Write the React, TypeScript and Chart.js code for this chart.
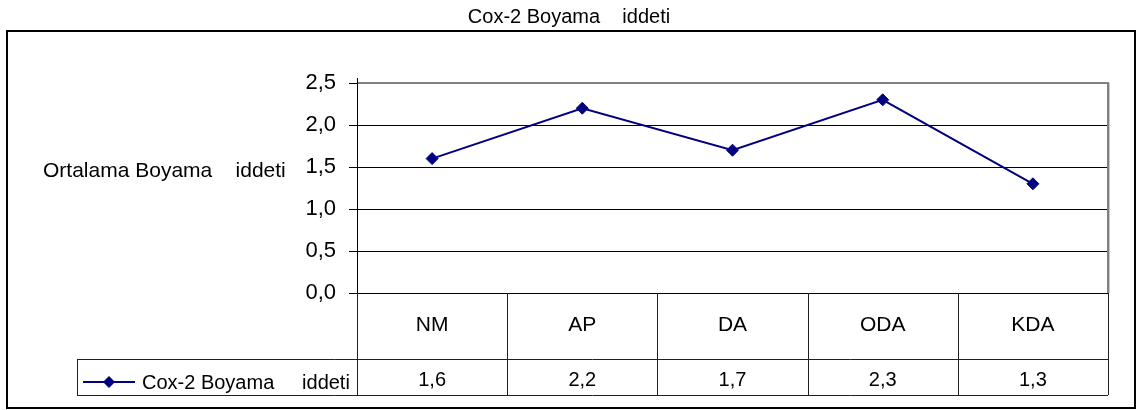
import React, { useEffect, useRef } from 'react';
import { Chart, registerables } from 'chart.js';

Chart.register(...registerables);

const categories = ['NM', 'AP', 'DA', 'ODA', 'KDA'];
const seriesValues = [1.6, 2.2, 1.7, 2.3, 1.3];
const seriesName = 'Cox-2 Boyama     iddeti';
const chartTitle = 'Cox-2 Boyama    iddeti';
const yAxisTitle = 'Ortalama Boyama    iddeti';
const yMin = 0;
const yMax = 2.5;
const yStep = 0.5;

const FONT = '"Liberation Sans", Arial, sans-serif';
const NAVY = '#000080';
const fmt = (v: number) => Number(v).toFixed(1).replace('.', ',');

const tablePlugin = {
  id: 'excelTable',
  afterDraw(chart: any) {
    const ctx = chart.ctx as CanvasRenderingContext2D;
    const ca = chart.chartArea;
    const xs = chart.scales.x;
    const n = categories.length;
    const tableBottom = 395;
    const rowLine = 359;
    const legendLeft = 77;

    ctx.save();
    // outer chart border
    ctx.strokeStyle = '#000';
    ctx.lineWidth = 2;
    ctx.strokeRect(7, 31, 1128, 377);

    // title
    ctx.fillStyle = '#000';
    ctx.font = `20px ${FONT}`;
    ctx.textAlign = 'center';
    ctx.textBaseline = 'alphabetic';
    ctx.fillText(chartTitle, 569, 23);

    // y axis title
    ctx.font = `21px ${FONT}`;
    ctx.textAlign = 'left';
    ctx.fillText(yAxisTitle, 43, 177);

    // plot area border (top / right) in grey
    ctx.strokeStyle = '#808080';
    ctx.lineWidth = 2;
    ctx.beginPath();
    ctx.moveTo(ca.left, ca.top);
    ctx.lineTo(ca.right, ca.top);
    ctx.lineTo(ca.right, ca.bottom);
    ctx.stroke();
    ctx.strokeStyle = '#c8c8c8';
    ctx.lineWidth = 1;
    ctx.beginPath();
    ctx.moveTo(ca.right + 1.5, ca.top);
    ctx.lineTo(ca.right + 1.5, ca.bottom);
    ctx.stroke();

    // axis line extended
    ctx.strokeStyle = '#000';
    ctx.lineWidth = 1;
    ctx.beginPath();
    ctx.moveTo(Math.round(ca.left) + 0.5, ca.top - 5);
    ctx.lineTo(Math.round(ca.left) + 0.5, tableBottom);
    ctx.stroke();

    // table vertical lines
    const bounds: number[] = [ca.left];
    for (let i = 0; i < n - 1; i++) {
      bounds.push((xs.getPixelForValue(i) + xs.getPixelForValue(i + 1)) / 2);
    }
    bounds.push(ca.right);
    ctx.strokeStyle = '#202020';
    ctx.lineWidth = 1;
    ctx.beginPath();
    bounds.forEach((bx) => {
      const px = Math.round(bx) + 0.5;
      ctx.moveTo(px, ca.bottom);
      ctx.lineTo(px, tableBottom);
    });
    // horizontal lines
    ctx.moveTo(legendLeft, rowLine + 0.5);
    ctx.lineTo(ca.right, rowLine + 0.5);
    ctx.moveTo(legendLeft, tableBottom + 0.5);
    ctx.lineTo(ca.right, tableBottom + 0.5);
    ctx.moveTo(legendLeft + 0.5, rowLine);
    ctx.lineTo(legendLeft + 0.5, tableBottom);
    ctx.stroke();

    // category labels and values
    ctx.fillStyle = '#000';
    ctx.textAlign = 'center';
    for (let i = 0; i < n; i++) {
      const cx = xs.getPixelForValue(i);
      ctx.font = `21px ${FONT}`;
      ctx.fillText(categories[i], cx, 331);
      ctx.font = `20px ${FONT}`;
      ctx.fillText(fmt(seriesValues[i]), cx, 386);
    }

    // legend key
    const ly = 382;
    ctx.strokeStyle = NAVY;
    ctx.lineWidth = 2;
    ctx.beginPath();
    ctx.moveTo(83, ly);
    ctx.lineTo(135, ly);
    ctx.stroke();
    ctx.fillStyle = NAVY;
    ctx.beginPath();
    ctx.moveTo(109, ly - 6);
    ctx.lineTo(115, ly);
    ctx.lineTo(109, ly + 6);
    ctx.lineTo(103, ly);
    ctx.closePath();
    ctx.fill();
    ctx.fillStyle = '#000';
    ctx.font = `20px ${FONT}`;
    ctx.textAlign = 'left';
    ctx.fillText(seriesName, 142, 389);

    ctx.restore();
  },
};

export default function App() {
  const canvasRef = useRef<HTMLCanvasElement | null>(null);

  useEffect(() => {
    document.body.style.margin = '0';
    const canvas = canvasRef.current;
    if (!canvas) return;
    const chart = new Chart(canvas, {
      type: 'line',
      data: {
        labels: categories,
        datasets: [
          {
            label: seriesName,
            data: seriesValues,
            borderColor: NAVY,
            backgroundColor: NAVY,
            borderWidth: 2,
            pointStyle: 'rectRot',
            pointRadius: 6,
            pointBorderWidth: 1,
            pointBackgroundColor: NAVY,
            pointBorderColor: NAVY,
            tension: 0,
            fill: false,
          },
        ],
      },
      options: {
        animation: false,
        responsive: false,
        maintainAspectRatio: false,
        layout: { padding: { top: 83, right: 30, bottom: 0, left: 0 } },
        plugins: {
          legend: { display: false },
          title: { display: false },
          tooltip: { enabled: false },
        },
        scales: {
          x: {
            type: 'category',
            offset: true,
            display: true,
            ticks: { display: false },
            grid: { display: false },
            border: { display: false },
            afterFit: (scale: any) => {
              scale.height = 117;
            },
          },
          y: {
            min: yMin,
            max: yMax,
            ticks: {
              stepSize: yStep,
              padding: 13,
              color: '#000',
              font: { family: FONT, size: 22 },
              callback: (v: any) => fmt(Number(v)),
            },
            grid: {
              color: '#000',
              lineWidth: 1,
              tickLength: 8,
              drawTicks: true,
            },
            border: { display: true, color: '#000', width: 1 },
            afterFit: (scale: any) => {
              scale.width = 357;
            },
          },
        },
      },
      plugins: [tablePlugin],
    });
    return () => chart.destroy();
  }, []);

  return (
    <div style={{ width: 1138, height: 410, background: '#fff' }}>
      <canvas ref={canvasRef} width={1138} height={410} style={{ display: 'block' }} />
    </div>
  );
}
